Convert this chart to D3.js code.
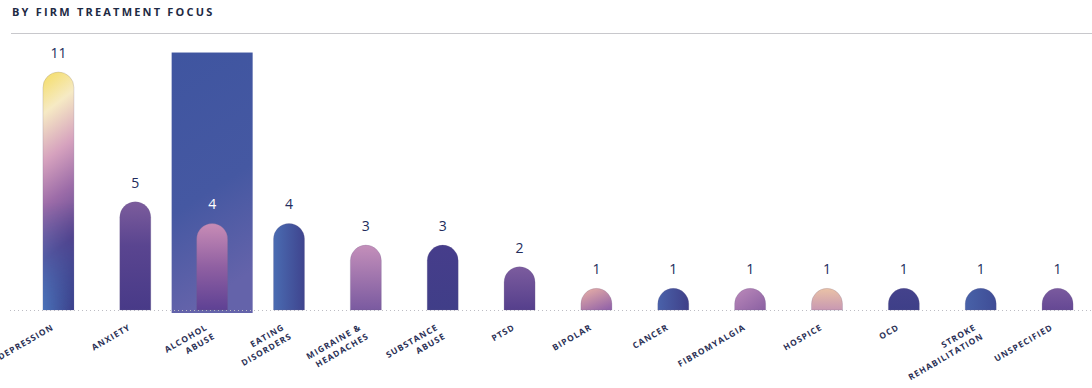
<!DOCTYPE html>
<html>
<head>
<meta charset="utf-8">
<script src="https://cdn.jsdelivr.net/npm/d3@7"></script>
<style>
  body { margin: 0; background: #fff; }
  svg { display: block; font-family: "Open Sans", sans-serif; }
</style>
</head>
<body>
<div id="chart"></div>
<script>
// data
const categories = ["DEPRESSION", "ANXIETY", "ALCOHOL\nABUSE", "EATING\nDISORDERS", "MIGRAINE &\nHEADACHES",
  "SUBSTANCE\nABUSE", "PTSD", "BIPOLAR", "CANCER", "FIBROMYALGIA", "HOSPICE", "OCD", "STROKE\nREHABILITATION", "UNSPECIFIED"]
const counts = [11, 5, 4, 4, 3, 3, 2, 1, 1, 1, 1, 1, 1, 1]
const highlighted = "ALCOHOL\nABUSE"
const title = "BY FIRM TREATMENT FOCUS"

// fills for each bar: [x1,y1,x2,y2, stops]
const fills = [
  [0.45, 0, 0.55, 1, [[0, "#f5e07a"], [0.13, "#f6eac4"], [0.33, "#d6a2be"], [0.52, "#9c6ca8"], [0.74, "#5a4590"], [1, "#4560a8"]]],
  [0, 0, 0, 1, [[0, "#7c5c9c"], [0.4, "#5a4590"], [1, "#483a88"]]],
  [0, 0, 0, 1, [[0, "#c88cb6"], [0.5, "#9060a2"], [1, "#5e4194"]]],
  [0, 0, 1, 0, [[0, "#4a6cb2"], [1, "#3f448e"]]],
  [0, 0, 0, 1, [[0, "#c48fba"], [1, "#7a5aa0"]]],
  [0, 0, 0, 1, [[0, "#463d8b"], [1, "#403e88"]]],
  [0, 0, 0, 1, [[0, "#7c5c9e"], [1, "#553f8c"]]],
  [0.2, 0, 0.8, 1, [[0, "#e4aca6"], [1, "#9464a8"]]],
  [0, 0, 1, 0, [[0, "#4a62aa"], [1, "#3f3f88"]]],
  [0, 0, 1, 1, [[0, "#bc8aba"], [1, "#8a60a2"]]],
  [0, 0, 0, 1, [[0, "#eac2a6"], [1, "#c898b2"]]],
  [0, 0, 0, 1, [[0, "#44428c"], [1, "#3e3f88"]]],
  [0, 0, 1, 0, [[0, "#4862a8"], [1, "#3f4c96"]]],
  [0, 0, 0, 1, [[0, "#7a5a9e"], [1, "#654894"]]]
]

const width = 1092, height = 388
const svg = d3.select("#chart").append("svg")
  .attr("width", width).attr("height", height)

// title + rule
svg.append("text")
  .attr("x", 12).attr("y", 16)
  .style("font-size", "11px").style("font-weight", "bold")
  .style("letter-spacing", "2.2px")
  .attr("fill", "#1e2a44")
  .text(title)
svg.append("line")
  .attr("x1", 11).attr("x2", width)
  .attr("y1", 33.5).attr("y2", 33.5)
  .attr("stroke", "#c8c8cc")

var x = d3.scaleBand().domain(categories).range([20, 1096])
var y = d3.scaleLinear().domain([0, 11]).range([310, 72])
var barW = 31
function cx(c) { return x(c) + x.bandwidth() / 2 }

// gradients
var defs = svg.append("defs")
fills.forEach(function(f, i) {
  var g = defs.append("linearGradient").attr("id", "g" + i)
    .attr("x1", f[0]).attr("y1", f[1]).attr("x2", f[2]).attr("y2", f[3])
  f[4].forEach(function(s) {
    g.append("stop").attr("offset", s[0]).attr("stop-color", s[1])
  })
})
var hg = defs.append("linearGradient").attr("id", "hl")
  .attr("x1", 0).attr("y1", 0).attr("x2", 0.2).attr("y2", 1)
hg.append("stop").attr("offset", 0).attr("stop-color", "#3f55a0")
hg.append("stop").attr("offset", 0.6).attr("stop-color", "#4558a2")
hg.append("stop").attr("offset", 1).attr("stop-color", "#6463aa")

// depression bottom: blue on the left, navy on the right
var dg = defs.append("linearGradient").attr("id", "dep2")
dg.append("stop").attr("offset", 0).attr("stop-color", "#4a72b8")
dg.append("stop").attr("offset", 1).attr("stop-color", "#3c3f8a")
var dm = defs.append("linearGradient").attr("id", "depm")
  .attr("x1", 0).attr("y1", 0).attr("x2", 0).attr("y2", 1)
dm.append("stop").attr("offset", 0.55).attr("stop-color", "#000")
dm.append("stop").attr("offset", 1).attr("stop-color", "#fff")
defs.append("mask").attr("id", "depmask")
  .attr("maskContentUnits", "objectBoundingBox")
  .append("rect").attr("width", 1).attr("height", 1).attr("fill", "url(#depm)")

// highlight column
svg.append("rect")
  .attr("x", cx(highlighted) - 40.5)
  .attr("width", 81)
  .attr("y", y(11.9))
  .attr("height", y(0) - y(11.9) + 3)
  .attr("fill", "url(#hl)")

// baseline
svg.append("line")
  .attr("x1", 10).attr("x2", width)
  .attr("y1", y(0) + 0.5).attr("y2", y(0) + 0.5)
  .attr("stroke", "#bdbdc4")
  .attr("stroke-dasharray", "1,3")

// rounded-top bars
function barPath(c, top, bottom) {
  var r = barW / 2
  var l = c - r, rt = c + r
  var h = bottom - top
  var rr = Math.min(r, h)
  return "M" + l + "," + bottom + "V" + (top + rr) +
    "A" + r + "," + rr + " 0 0 1 " + rt + "," + (top + rr) +
    "V" + bottom + "Z"
}

var data = categories.map(function(c, i) { return {cat: c, v: counts[i], i: i} })

svg.selectAll("path.bar")
  .data(data)
  .enter()
  .append("path")
    .attr("class", "bar")
    .attr("d", function(d) { return barPath(cx(d.cat), y(d.v), y(0)) })
    .attr("fill", function(d) { return "url(#g" + d.i + ")" })
    .attr("stroke", "rgba(110,100,140,0.35)")
    .attr("stroke-width", 0.6)

svg.append("path")
  .attr("d", barPath(cx(categories[0]), y(counts[0]), y(0)))
  .attr("fill", "url(#dep2)")
  .attr("mask", "url(#depmask)")

svg.selectAll("text.val")
  .data(data)
  .enter()
  .append("text")
    .attr("class", "val")
    .attr("x", function(d) { return cx(d.cat) })
    .attr("y", function(d) { return y(d.v) - 14 })
    .attr("text-anchor", "middle")
    .style("font-size", "14px")
    .attr("fill", function(d) { return d.cat === highlighted ? "#fff" : "#222c5c" })
    .text(function(d) { return d.v })

// rotated category labels
var labels = svg.selectAll("g.lab")
  .data(data)
  .enter()
  .append("g")
    .attr("class", "lab")
    .attr("transform", function(d) { return "translate(" + (cx(d.cat) - 4) + ",329) rotate(-30)" })
labels.append("text")
  .attr("text-anchor", "end")
  .style("font-size", "8.5px").style("font-weight", "bold")
  .style("letter-spacing", "1px")
  .attr("fill", "#2a2f55")
  .selectAll("tspan")
  .data(function(d) { return d.cat.split("\n") })
  .enter()
  .append("tspan")
    .attr("x", function(t, j) { return j * 2 })
    .attr("dy", function(t, j) { return j === 0 ? 0 : 11.5 })
    .text(function(t) { return t })
</script>
</body>
</html>
